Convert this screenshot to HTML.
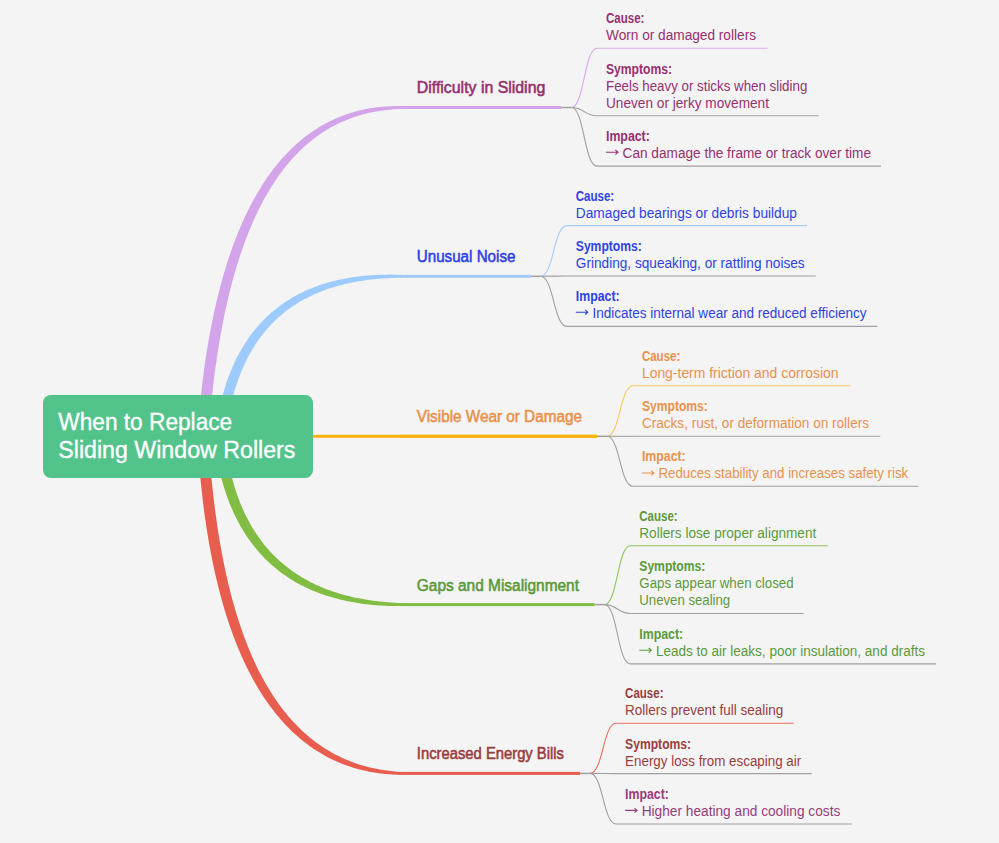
<!DOCTYPE html><html><head><meta charset="utf-8"><style>html,body{margin:0;padding:0;background:#f4f4f4;width:999px;height:843px;overflow:hidden}svg{position:absolute;left:0;top:0}text{font-family:"Liberation Sans", sans-serif}</style></head><body>
<svg width="999" height="843" viewBox="0 0 999 843">
<path d="M209.52,420.25 L210.89,406.32 L211.57,399.71 L212.27,393.18 L213.02,386.72 L213.79,380.33 L214.60,374.03 L215.45,367.79 L216.33,361.64 L217.22,355.55 L218.15,349.55 L219.11,343.61 L220.10,337.76 L221.13,331.97 L222.19,326.27 L223.29,320.63 L224.41,315.08 L225.57,309.60 L226.77,304.19 L228.00,298.86 L229.26,293.60 L230.55,288.42 L231.88,283.32 L233.24,278.29 L234.63,273.33 L236.06,268.45 L237.52,263.64 L239.01,258.91 L240.54,254.26 L242.09,249.68 L243.69,245.17 L245.31,240.74 L246.97,236.39 L248.66,232.11 L250.38,227.90 L252.14,223.77 L253.93,219.71 L255.75,215.73 L257.61,211.83 L259.50,207.99 L261.42,204.23 L263.37,200.55 L265.36,196.94 L267.38,193.40 L269.43,189.94 L271.51,186.55 L273.63,183.24 L275.78,180.00 L277.97,176.83 L280.18,173.74 L282.43,170.72 L284.71,167.77 L287.03,164.90 L289.38,162.09 L291.76,159.37 L294.18,156.71 L296.63,154.13 L299.11,151.62 L301.62,149.18 L304.17,146.81 L306.76,144.52 L309.38,142.29 L312.03,140.14 L314.72,138.06 L317.44,136.06 L320.19,134.12 L322.99,132.26 L325.81,130.46 L328.68,128.74 L331.57,127.09 L334.51,125.51 L337.48,124.00 L340.49,122.57 L343.53,121.20 L346.61,119.91 L349.73,118.68 L352.88,117.53 L356.07,116.45 L359.30,115.45 L362.57,114.51 L365.87,113.65 L369.21,112.86 L372.59,112.14 L376.01,111.49 L379.47,110.92 L382.96,110.41 L386.49,109.98 L390.07,109.63 L393.68,109.35 L397.32,109.14 L401.01,109.00 L400.99,106.00 L397.24,105.98 L393.52,106.04 L389.83,106.17 L386.17,106.38 L382.55,106.67 L378.95,107.03 L375.38,107.47 L371.85,107.99 L368.35,108.59 L364.87,109.26 L361.43,110.01 L358.02,110.84 L354.65,111.74 L351.30,112.73 L347.99,113.79 L344.70,114.93 L341.45,116.15 L338.23,117.44 L335.05,118.82 L331.90,120.27 L328.78,121.80 L325.69,123.41 L322.64,125.10 L319.62,126.87 L316.63,128.71 L313.68,130.63 L310.76,132.64 L307.88,134.71 L305.03,136.87 L302.22,139.11 L299.44,141.42 L296.69,143.81 L293.99,146.28 L291.31,148.82 L288.68,151.45 L286.07,154.15 L283.51,156.92 L280.98,159.78 L278.48,162.71 L276.03,165.72 L273.60,168.80 L271.22,171.96 L268.87,175.20 L266.55,178.51 L264.28,181.90 L262.04,185.36 L259.83,188.90 L257.66,192.52 L255.53,196.21 L253.44,199.98 L251.38,203.82 L249.35,207.74 L247.37,211.73 L245.42,215.80 L243.50,219.94 L241.62,224.16 L239.78,228.45 L237.98,232.82 L236.21,237.26 L234.47,241.78 L232.78,246.37 L231.12,251.04 L229.49,255.78 L227.90,260.60 L226.35,265.49 L224.83,270.46 L223.35,275.50 L221.91,280.61 L220.50,285.80 L219.12,291.07 L217.79,296.41 L216.49,301.82 L215.22,307.31 L213.99,312.87 L212.80,318.50 L211.64,324.22 L210.52,330.00 L209.43,335.86 L208.38,341.79 L207.36,347.80 L206.38,353.89 L205.44,360.04 L204.55,366.28 L203.70,372.59 L202.88,378.97 L202.09,385.43 L201.34,391.96 L200.63,398.56 L199.95,405.24 L198.57,419.17Z" fill="#d4a4ea"/>
<rect x="400" y="106.0" width="161.39999999999998" height="3" fill="#d4a4ea"/>
<line x1="561.4" y1="107.5" x2="571.4" y2="107.5" stroke="#a0a0a0" stroke-width="1.5"/>
<path d="M571.40,107.50 C584.20,107.50 584.20,48.30 597.00,48.30" fill="none" stroke="#d9aaf0" stroke-width="1.1"/>
<line x1="597" y1="48.3" x2="767.6" y2="48.3" stroke="#d9aaf0" stroke-width="1.1"/>
<path d="M571.40,107.50 C584.20,107.50 584.20,115.70 597.00,115.70" fill="none" stroke="#a0a0a0" stroke-width="1.1"/>
<line x1="597" y1="115.7" x2="818.6" y2="115.7" stroke="#a0a0a0" stroke-width="1.1"/>
<path d="M571.40,107.50 C584.20,107.50 584.20,166.10 597.00,166.10" fill="none" stroke="#a0a0a0" stroke-width="1.1"/>
<line x1="597" y1="166.1" x2="881" y2="166.1" stroke="#a0a0a0" stroke-width="1.1"/>
<path d="M229.32,410.16 L232.94,396.64 L233.66,393.99 L234.41,391.37 L235.19,388.79 L235.99,386.24 L236.82,383.71 L237.67,381.22 L238.55,378.76 L239.45,376.34 L240.38,373.94 L241.33,371.57 L242.31,369.23 L243.31,366.93 L244.34,364.65 L245.40,362.41 L246.48,360.20 L247.58,358.01 L248.71,355.86 L249.87,353.74 L251.05,351.64 L252.26,349.58 L253.49,347.55 L254.75,345.55 L256.04,343.57 L257.35,341.63 L258.68,339.72 L260.04,337.83 L261.43,335.98 L262.84,334.16 L264.28,332.36 L265.75,330.60 L267.24,328.86 L268.76,327.15 L270.30,325.47 L271.87,323.82 L273.47,322.20 L275.09,320.61 L276.74,319.05 L278.41,317.52 L280.12,316.01 L281.85,314.54 L283.60,313.09 L285.39,311.67 L287.20,310.28 L289.04,308.92 L290.90,307.59 L292.79,306.28 L294.72,305.01 L296.66,303.76 L298.64,302.54 L300.64,301.36 L302.67,300.20 L304.73,299.06 L306.82,297.96 L308.94,296.89 L311.08,295.84 L313.25,294.83 L315.45,293.84 L317.68,292.88 L319.94,291.95 L322.22,291.05 L324.54,290.18 L326.88,289.34 L329.25,288.52 L331.65,287.74 L334.08,286.98 L336.54,286.26 L339.02,285.56 L341.54,284.90 L344.08,284.26 L346.65,283.65 L349.25,283.08 L351.88,282.53 L354.54,282.01 L357.23,281.52 L359.94,281.06 L362.69,280.64 L365.46,280.24 L368.26,279.87 L371.09,279.53 L373.95,279.22 L376.84,278.94 L379.76,278.69 L382.70,278.48 L385.68,278.29 L388.68,278.13 L391.71,278.00 L394.77,277.90 L397.86,277.84 L400.98,277.80 L401.02,274.80 L397.88,274.70 L394.75,274.64 L391.66,274.61 L388.59,274.61 L385.54,274.64 L382.53,274.71 L379.53,274.80 L376.56,274.93 L373.62,275.09 L370.70,275.28 L367.81,275.50 L364.94,275.76 L362.10,276.05 L359.28,276.37 L356.49,276.72 L353.72,277.11 L350.98,277.52 L348.27,277.97 L345.58,278.45 L342.91,278.97 L340.27,279.52 L337.65,280.09 L335.06,280.71 L332.50,281.35 L329.96,282.03 L327.45,282.74 L324.96,283.48 L322.49,284.26 L320.06,285.07 L317.64,285.91 L315.26,286.78 L312.90,287.69 L310.56,288.63 L308.25,289.61 L305.97,290.62 L303.71,291.66 L301.48,292.73 L299.27,293.84 L297.09,294.98 L294.93,296.15 L292.81,297.36 L290.70,298.60 L288.63,299.88 L286.58,301.18 L284.56,302.52 L282.56,303.90 L280.59,305.31 L278.65,306.75 L276.73,308.22 L274.84,309.73 L272.98,311.27 L271.15,312.85 L269.34,314.46 L267.56,316.10 L265.81,317.77 L264.09,319.48 L262.39,321.22 L260.72,322.99 L259.08,324.80 L257.47,326.64 L255.88,328.51 L254.32,330.42 L252.79,332.35 L251.29,334.32 L249.82,336.33 L248.38,338.36 L246.96,340.43 L245.57,342.53 L244.21,344.66 L242.88,346.82 L241.58,349.02 L240.31,351.25 L239.06,353.51 L237.84,355.80 L236.66,358.12 L235.50,360.47 L234.37,362.86 L233.26,365.28 L232.19,367.73 L231.14,370.21 L230.13,372.72 L229.14,375.26 L228.18,377.83 L227.25,380.44 L226.34,383.07 L225.47,385.74 L224.63,388.44 L223.81,391.17 L223.02,393.92 L219.25,407.41Z" fill="#9dcbff"/>
<rect x="400" y="274.8" width="130.60000000000002" height="3" fill="#9dcbff"/>
<line x1="530.6" y1="276.3" x2="540.6" y2="276.3" stroke="#a0a0a0" stroke-width="1.5"/>
<path d="M540.60,276.30 C553.70,276.30 553.70,225.60 566.80,225.60" fill="none" stroke="#a3ceff" stroke-width="1.1"/>
<line x1="566.8" y1="225.6" x2="807" y2="225.6" stroke="#a3ceff" stroke-width="1.1"/>
<path d="M540.60,276.30 C553.70,276.30 553.70,276.00 566.80,276.00" fill="none" stroke="#a0a0a0" stroke-width="1.1"/>
<line x1="566.8" y1="276" x2="815.8" y2="276" stroke="#a0a0a0" stroke-width="1.1"/>
<path d="M540.60,276.30 C553.70,276.30 553.70,326.40 566.80,326.40" fill="none" stroke="#a0a0a0" stroke-width="1.1"/>
<line x1="566.8" y1="326.4" x2="877.5" y2="326.4" stroke="#a0a0a0" stroke-width="1.1"/>
<rect x="240" y="434.8" width="357" height="3" fill="#fdb20d"/>
<rect x="400" y="434.8" width="197" height="3" fill="#fdb20d"/>
<line x1="597" y1="436.3" x2="607" y2="436.3" stroke="#a0a0a0" stroke-width="1.5"/>
<path d="M607.00,436.30 C619.95,436.30 619.95,385.80 632.90,385.80" fill="none" stroke="#f9c760" stroke-width="1.1"/>
<line x1="632.9" y1="385.8" x2="850.4" y2="385.8" stroke="#f9c760" stroke-width="1.1"/>
<path d="M607.00,436.30 C619.95,436.30 619.95,436.30 632.90,436.30" fill="none" stroke="#a0a0a0" stroke-width="1.1"/>
<line x1="632.9" y1="436.3" x2="880.3" y2="436.3" stroke="#a0a0a0" stroke-width="1.1"/>
<path d="M607.00,436.30 C619.95,436.30 619.95,486.30 632.90,486.30" fill="none" stroke="#a0a0a0" stroke-width="1.1"/>
<line x1="632.9" y1="486.3" x2="918.5" y2="486.3" stroke="#a0a0a0" stroke-width="1.1"/>
<path d="M216.84,459.72 L220.15,473.33 L220.89,476.29 L221.66,479.22 L222.46,482.12 L223.29,484.99 L224.15,487.82 L225.05,490.62 L225.97,493.39 L226.92,496.13 L227.90,498.84 L228.91,501.51 L229.96,504.15 L231.03,506.76 L232.13,509.34 L233.27,511.88 L234.43,514.39 L235.63,516.87 L236.85,519.32 L238.11,521.73 L239.39,524.11 L240.71,526.46 L242.06,528.77 L243.43,531.05 L244.84,533.30 L246.28,535.51 L247.74,537.69 L249.24,539.84 L250.77,541.95 L252.32,544.03 L253.91,546.08 L255.53,548.09 L257.17,550.07 L258.85,552.01 L260.56,553.92 L262.29,555.80 L264.06,557.64 L265.85,559.45 L267.68,561.22 L269.53,562.96 L271.41,564.66 L273.32,566.33 L275.26,567.97 L277.23,569.57 L279.23,571.13 L281.26,572.67 L283.31,574.16 L285.40,575.62 L287.51,577.05 L289.65,578.45 L291.82,579.80 L294.01,581.13 L296.24,582.42 L298.49,583.67 L300.77,584.89 L303.08,586.07 L305.41,587.22 L307.77,588.34 L310.17,589.42 L312.58,590.47 L315.03,591.48 L317.50,592.46 L320.00,593.40 L322.53,594.31 L325.08,595.19 L327.66,596.03 L330.27,596.84 L332.91,597.61 L335.57,598.35 L338.26,599.05 L340.98,599.72 L343.72,600.36 L346.49,600.96 L349.29,601.53 L352.11,602.07 L354.97,602.57 L357.84,603.04 L360.75,603.48 L363.68,603.88 L366.64,604.25 L369.63,604.58 L372.64,604.88 L375.68,605.15 L378.75,605.38 L381.84,605.59 L384.96,605.75 L388.11,605.89 L391.29,605.99 L394.49,606.06 L397.72,606.10 L400.97,606.10 L401.03,603.10 L397.80,602.96 L394.61,602.79 L391.45,602.59 L388.32,602.36 L385.22,602.09 L382.15,601.80 L379.11,601.47 L376.10,601.11 L373.12,600.73 L370.17,600.31 L367.25,599.85 L364.37,599.37 L361.51,598.86 L358.68,598.31 L355.89,597.74 L353.12,597.13 L350.39,596.50 L347.68,595.83 L345.01,595.13 L342.37,594.40 L339.75,593.64 L337.17,592.85 L334.62,592.03 L332.10,591.18 L329.61,590.30 L327.15,589.39 L324.72,588.45 L322.32,587.48 L319.95,586.47 L317.61,585.44 L315.30,584.38 L313.02,583.29 L310.77,582.17 L308.55,581.01 L306.36,579.83 L304.20,578.62 L302.07,577.38 L299.97,576.10 L297.90,574.80 L295.86,573.47 L293.85,572.11 L291.86,570.72 L289.91,569.30 L287.99,567.85 L286.09,566.37 L284.22,564.86 L282.39,563.32 L280.58,561.75 L278.80,560.15 L277.05,558.52 L275.32,556.86 L273.63,555.17 L271.96,553.45 L270.32,551.70 L268.71,549.92 L267.13,548.11 L265.57,546.27 L264.05,544.40 L262.55,542.50 L261.08,540.56 L259.63,538.60 L258.22,536.61 L256.83,534.59 L255.47,532.53 L254.13,530.45 L252.83,528.33 L251.55,526.18 L250.29,524.00 L249.07,521.79 L247.87,519.55 L246.70,517.28 L245.56,514.97 L244.44,512.64 L243.35,510.27 L242.29,507.87 L241.25,505.44 L240.25,502.98 L239.27,500.48 L238.31,497.96 L237.39,495.40 L236.49,492.81 L235.61,490.18 L234.77,487.53 L233.95,484.84 L233.16,482.12 L232.40,479.37 L231.66,476.58 L230.95,473.76 L230.27,470.91 L227.09,457.28Z" fill="#80bd42"/>
<rect x="400" y="603.1" width="194.60000000000002" height="3" fill="#80bd42"/>
<line x1="594.6" y1="604.6" x2="604.6" y2="604.6" stroke="#a0a0a0" stroke-width="1.5"/>
<path d="M604.60,604.60 C617.45,604.60 617.45,545.80 630.30,545.80" fill="none" stroke="#8cc55a" stroke-width="1.1"/>
<line x1="630.3" y1="545.8" x2="827.8" y2="545.8" stroke="#8cc55a" stroke-width="1.1"/>
<path d="M604.60,604.60 C617.45,604.60 617.45,613.50 630.30,613.50" fill="none" stroke="#a0a0a0" stroke-width="1.1"/>
<line x1="630.3" y1="613.5" x2="803.7" y2="613.5" stroke="#a0a0a0" stroke-width="1.1"/>
<path d="M604.60,604.60 C617.45,604.60 617.45,663.90 630.30,663.90" fill="none" stroke="#a0a0a0" stroke-width="1.1"/>
<line x1="630.3" y1="663.9" x2="936" y2="663.9" stroke="#a0a0a0" stroke-width="1.1"/>
<path d="M195.85,409.01 L196.52,422.99 L196.91,430.72 L197.34,438.37 L197.82,445.93 L198.34,453.40 L198.90,460.79 L199.51,468.10 L200.15,475.32 L200.84,482.46 L201.57,489.51 L202.35,496.48 L203.16,503.36 L204.02,510.16 L204.92,516.88 L205.87,523.51 L206.87,530.05 L207.92,536.51 L209.01,542.88 L210.15,549.17 L211.33,555.37 L212.55,561.49 L213.81,567.52 L215.12,573.47 L216.47,579.34 L217.87,585.12 L219.31,590.81 L220.79,596.42 L222.32,601.94 L223.89,607.38 L225.50,612.73 L227.16,618.00 L228.86,623.19 L230.60,628.29 L232.39,633.30 L234.23,638.23 L236.10,643.07 L238.02,647.82 L239.98,652.50 L241.99,657.08 L244.04,661.58 L246.14,666.00 L248.28,670.33 L250.46,674.57 L252.69,678.72 L254.96,682.79 L257.27,686.78 L259.63,690.68 L262.04,694.49 L264.48,698.21 L266.97,701.85 L269.51,705.40 L272.09,708.87 L274.71,712.24 L277.37,715.53 L280.08,718.74 L282.84,721.85 L285.63,724.88 L288.47,727.81 L291.35,730.66 L294.28,733.43 L297.25,736.10 L300.26,738.68 L303.31,741.18 L306.41,743.59 L309.55,745.91 L312.72,748.13 L315.95,750.27 L319.21,752.32 L322.51,754.29 L325.85,756.16 L329.24,757.94 L332.66,759.63 L336.13,761.24 L339.63,762.75 L343.17,764.17 L346.76,765.51 L350.38,766.76 L354.04,767.91 L357.74,768.98 L361.48,769.96 L365.25,770.85 L369.07,771.65 L372.92,772.37 L376.81,772.99 L380.74,773.53 L384.71,773.98 L388.71,774.34 L392.75,774.61 L396.83,774.80 L400.95,774.90 L401.05,771.90 L397.01,771.63 L393.01,771.28 L389.06,770.85 L385.15,770.33 L381.29,769.73 L377.48,769.04 L373.71,768.28 L369.99,767.43 L366.32,766.50 L362.69,765.48 L359.10,764.39 L355.56,763.21 L352.07,761.95 L348.62,760.61 L345.22,759.18 L341.86,757.68 L338.54,756.09 L335.27,754.43 L332.04,752.68 L328.86,750.85 L325.72,748.94 L322.62,746.95 L319.57,744.87 L316.56,742.72 L313.59,740.48 L310.66,738.16 L307.78,735.76 L304.93,733.28 L302.13,730.72 L299.37,728.07 L296.65,725.34 L293.97,722.53 L291.33,719.64 L288.73,716.67 L286.18,713.61 L283.66,710.47 L281.18,707.24 L278.75,703.93 L276.35,700.54 L273.99,697.07 L271.68,693.51 L269.40,689.86 L267.16,686.14 L264.97,682.32 L262.81,678.43 L260.69,674.45 L258.62,670.38 L256.58,666.23 L254.58,662.00 L252.63,657.68 L250.71,653.27 L248.83,648.79 L246.99,644.21 L245.20,639.55 L243.44,634.80 L241.72,629.97 L240.04,625.06 L238.41,620.06 L236.81,614.97 L235.25,609.80 L233.74,604.54 L232.26,599.19 L230.82,593.76 L229.43,588.25 L228.07,582.65 L226.76,576.96 L225.48,571.19 L224.25,565.33 L223.05,559.39 L221.90,553.36 L220.79,547.24 L219.71,541.04 L218.68,534.75 L217.69,528.38 L216.74,521.92 L215.82,515.37 L214.93,508.74 L214.08,502.03 L213.27,495.23 L212.51,488.34 L211.79,481.36 L211.11,474.30 L210.47,467.16 L209.87,459.92 L209.31,452.60 L208.80,445.20 L208.32,437.71 L207.89,430.13 L207.50,422.47 L206.83,408.48Z" fill="#e75e4f"/>
<rect x="400" y="771.9" width="180" height="3" fill="#e75e4f"/>
<line x1="580" y1="773.4" x2="590" y2="773.4" stroke="#a0a0a0" stroke-width="1.5"/>
<path d="M590.00,773.40 C603.05,773.40 603.05,723.30 616.10,723.30" fill="none" stroke="#ec6b5c" stroke-width="1.1"/>
<line x1="616.1" y1="723.3" x2="793.7" y2="723.3" stroke="#ec6b5c" stroke-width="1.1"/>
<path d="M590.00,773.40 C603.05,773.40 603.05,773.60 616.10,773.60" fill="none" stroke="#a0a0a0" stroke-width="1.1"/>
<line x1="616.1" y1="773.6" x2="811.7" y2="773.6" stroke="#a0a0a0" stroke-width="1.1"/>
<path d="M590.00,773.40 C603.05,773.40 603.05,824.00 616.10,824.00" fill="none" stroke="#a0a0a0" stroke-width="1.1"/>
<line x1="616.1" y1="824" x2="851.7" y2="824" stroke="#a0a0a0" stroke-width="1.1"/>
<rect x="43" y="395" width="270" height="83" rx="8" ry="8" fill="#52c38b"/>
<text x="58.3" y="430" font-size="23" fill="#ffffff" stroke="#ffffff" stroke-width="0.35" textLength="173.9" lengthAdjust="spacingAndGlyphs">When to Replace</text>
<text x="58.3" y="457.8" font-size="23" fill="#ffffff" stroke="#ffffff" stroke-width="0.35" textLength="237.1" lengthAdjust="spacingAndGlyphs">Sliding Window Rollers</text>
<text x="416.8" y="92.9" font-size="16" fill="#96306f" stroke="#96306f" stroke-width="0.55" textLength="128.5" lengthAdjust="spacingAndGlyphs">Difficulty in Sliding</text>
<text x="606" y="22.9" font-size="14.5" font-weight="bold" fill="#96306f" textLength="38.4" lengthAdjust="spacingAndGlyphs">Cause:</text>
<text x="606.0" y="39.8" font-size="13.8" fill="#96306f" textLength="150.0" lengthAdjust="spacingAndGlyphs">Worn or damaged rollers</text>
<text x="606" y="74.1" font-size="14.5" font-weight="bold" fill="#96306f" textLength="66" lengthAdjust="spacingAndGlyphs">Symptoms:</text>
<text x="606.0" y="91.0" font-size="13.8" fill="#96306f" textLength="201.3" lengthAdjust="spacingAndGlyphs">Feels heavy or sticks when sliding</text>
<text x="606.0" y="108.0" font-size="13.8" fill="#96306f" textLength="163.0" lengthAdjust="spacingAndGlyphs">Uneven or jerky movement</text>
<text x="606" y="140.7" font-size="14.5" font-weight="bold" fill="#96306f" textLength="43.8" lengthAdjust="spacingAndGlyphs">Impact:</text>
<path d="M606.0,152.3 H618.0 M615.4,150.0 L618.0,152.3 L615.4,154.6" fill="none" stroke="#96306f" stroke-width="1.1"/>
<text x="622.6" y="157.6" font-size="13.8" fill="#96306f" textLength="248.4" lengthAdjust="spacingAndGlyphs">Can damage the frame or track over time</text>
<text x="416.8" y="261.8" font-size="16" fill="#2e42e4" stroke="#2e42e4" stroke-width="0.55" textLength="98.6" lengthAdjust="spacingAndGlyphs">Unusual Noise</text>
<text x="575.8" y="200.9" font-size="14.5" font-weight="bold" fill="#2e42e4" textLength="38.4" lengthAdjust="spacingAndGlyphs">Cause:</text>
<text x="575.8" y="217.8" font-size="13.8" fill="#2e42e4" textLength="221.2" lengthAdjust="spacingAndGlyphs">Damaged bearings or debris buildup</text>
<text x="575.8" y="251.0" font-size="14.5" font-weight="bold" fill="#2e42e4" textLength="66" lengthAdjust="spacingAndGlyphs">Symptoms:</text>
<text x="575.8" y="267.9" font-size="13.8" fill="#2e42e4" textLength="228.9" lengthAdjust="spacingAndGlyphs">Grinding, squeaking, or rattling noises</text>
<text x="575.8" y="300.6" font-size="14.5" font-weight="bold" fill="#2e42e4" textLength="43.8" lengthAdjust="spacingAndGlyphs">Impact:</text>
<path d="M575.8,312.2 H587.8 M585.2,309.9 L587.8,312.2 L585.2,314.5" fill="none" stroke="#2e42e4" stroke-width="1.1"/>
<text x="592.4" y="317.5" font-size="13.8" fill="#2e42e4" textLength="274.1" lengthAdjust="spacingAndGlyphs">Indicates internal wear and reduced efficiency</text>
<text x="416.8" y="421.8" font-size="16" fill="#e9914c" stroke="#e9914c" stroke-width="0.55" textLength="165.1" lengthAdjust="spacingAndGlyphs">Visible Wear or Damage</text>
<text x="641.9" y="360.9" font-size="14.5" font-weight="bold" fill="#e9914c" textLength="38.4" lengthAdjust="spacingAndGlyphs">Cause:</text>
<text x="641.9" y="377.8" font-size="13.8" fill="#e9914c" textLength="196.6" lengthAdjust="spacingAndGlyphs">Long-term friction and corrosion</text>
<text x="641.9" y="410.7" font-size="14.5" font-weight="bold" fill="#e9914c" textLength="66" lengthAdjust="spacingAndGlyphs">Symptoms:</text>
<text x="641.9" y="427.6" font-size="13.8" fill="#e9914c" textLength="227.1" lengthAdjust="spacingAndGlyphs">Cracks, rust, or deformation on rollers</text>
<text x="641.9" y="461.4" font-size="14.5" font-weight="bold" fill="#e9914c" textLength="43.8" lengthAdjust="spacingAndGlyphs">Impact:</text>
<path d="M641.9,473.0 H653.9 M651.3,470.7 L653.9,473.0 L651.3,475.3" fill="none" stroke="#e9914c" stroke-width="1.1"/>
<text x="658.5" y="478.3" font-size="13.8" fill="#e9914c" textLength="249.7" lengthAdjust="spacingAndGlyphs">Reduces stability and increases safety risk</text>
<text x="416.8" y="591.2" font-size="16" fill="#5b9a3b" stroke="#5b9a3b" stroke-width="0.55" textLength="162.2" lengthAdjust="spacingAndGlyphs">Gaps and Misalignment</text>
<text x="639.3" y="520.9" font-size="14.5" font-weight="bold" fill="#5b9a3b" textLength="38.4" lengthAdjust="spacingAndGlyphs">Cause:</text>
<text x="639.3" y="537.8" font-size="13.8" fill="#5b9a3b" textLength="177.0" lengthAdjust="spacingAndGlyphs">Rollers lose proper alignment</text>
<text x="639.3" y="570.8" font-size="14.5" font-weight="bold" fill="#5b9a3b" textLength="66" lengthAdjust="spacingAndGlyphs">Symptoms:</text>
<text x="639.3" y="587.7" font-size="13.8" fill="#5b9a3b" textLength="154.3" lengthAdjust="spacingAndGlyphs">Gaps appear when closed</text>
<text x="639.3" y="604.7" font-size="13.8" fill="#5b9a3b" textLength="90.9" lengthAdjust="spacingAndGlyphs">Uneven sealing</text>
<text x="639.3" y="638.7" font-size="14.5" font-weight="bold" fill="#5b9a3b" textLength="43.8" lengthAdjust="spacingAndGlyphs">Impact:</text>
<path d="M639.3,650.3 H651.3 M648.7,648.0 L651.3,650.3 L648.7,652.6" fill="none" stroke="#5b9a3b" stroke-width="1.1"/>
<text x="655.9" y="655.6" font-size="13.8" fill="#5b9a3b" textLength="269.1" lengthAdjust="spacingAndGlyphs">Leads to air leaks, poor insulation, and drafts</text>
<text x="416.8" y="759.1" font-size="16" fill="#9a3c3c" stroke="#9a3c3c" stroke-width="0.55" textLength="147.2" lengthAdjust="spacingAndGlyphs">Increased Energy Bills</text>
<text x="625.1" y="697.8" font-size="14.5" font-weight="bold" fill="#9a3c3c" textLength="38.4" lengthAdjust="spacingAndGlyphs">Cause:</text>
<text x="625.1" y="714.7" font-size="13.8" fill="#9a3c3c" textLength="158.1" lengthAdjust="spacingAndGlyphs">Rollers prevent full sealing</text>
<text x="625.1" y="748.7" font-size="14.5" font-weight="bold" fill="#9a3c3c" textLength="66" lengthAdjust="spacingAndGlyphs">Symptoms:</text>
<text x="625.1" y="765.6" font-size="13.8" fill="#9a3c3c" textLength="176.1" lengthAdjust="spacingAndGlyphs">Energy loss from escaping air</text>
<text x="625.1" y="798.8" font-size="14.5" font-weight="bold" fill="#973c7c" textLength="43.8" lengthAdjust="spacingAndGlyphs">Impact:</text>
<path d="M625.1,810.4 H637.1 M634.5,808.1 L637.1,810.4 L634.5,812.7" fill="none" stroke="#973c7c" stroke-width="1.1"/>
<text x="641.7" y="815.7" font-size="13.8" fill="#973c7c" textLength="198.6" lengthAdjust="spacingAndGlyphs">Higher heating and cooling costs</text>
</svg></body></html>
